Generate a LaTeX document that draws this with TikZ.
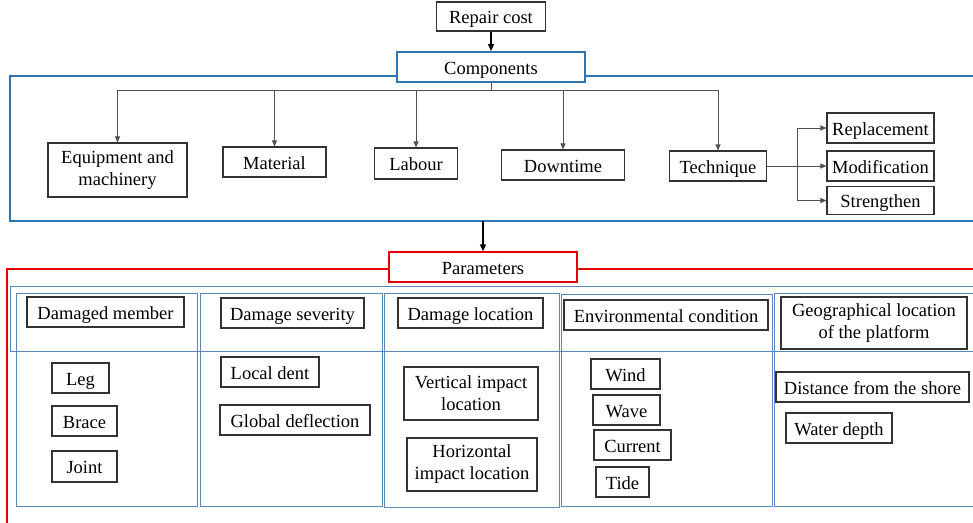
\documentclass[tikz,border=0pt]{standalone}
\usepackage{fontspec}
\setmainfont{Liberation Serif}
\usetikzlibrary{arrows.meta}

\definecolor{compblue}{RGB}{46,117,182}
\definecolor{parblue}{RGB}{96,136,182}
\definecolor{parred}{RGB}{226,0,0}
\definecolor{linegray}{RGB}{80,80,80}

\tikzset{
    base/.style={draw=black!80, line width=1.1pt, fill=white, inner sep=0pt,
        font=\fontsize{18.5}{22}\selectfont},
    box/.style={base, text height=17pt, text depth=3pt},
    twoline/.style={base, align=center, execute at begin node={\rule{0pt}{17pt}}},
    conn/.style={draw=linegray, line width=0.9pt},
    arr/.style={conn, -{Triangle[length=6pt,width=5pt]}},
}

\begin{document}
\begin{tikzpicture}[x=1pt,y=-1pt]
    \useasboundingbox (0,0) rectangle (973,522);

    % frames
    \draw[compblue, line width=2pt] (990,76) -- (10,76) -- (10,221) -- (990,221);
    \draw[parred, line width=1.4pt] (990,269) -- (7,269) -- (7,530);
    \begin{scope}[parblue, line width=1pt]
        \draw (990,286) -- (10,286) -- (10,351) -- (990,351);
        \draw (16,293) rectangle (197,506);
        \draw (200,293) rectangle (382,506);
        \draw (384,293) rectangle (559,507);
        \draw (561,294) rectangle (772,506);
        \draw (990,293) -- (774,293) -- (774,506) -- (990,506);
    \end{scope}
    \coordinate (cbot) at (483,221);

    % top
    \node[box, minimum width=109pt, minimum height=29pt] (cost) at (491,16.5) {Repair cost};
    \node[box, draw=compblue, line width=2pt, minimum width=188pt, minimum height=30pt] (comp) at (491,67) {Components};

    % components
    \node[twoline, minimum width=139pt, minimum height=54pt] (equip) at (117.5,170) {Equipment and\\machinery};
    \node[box, minimum width=103pt, minimum height=30pt] (mat) at (274.5,162) {Material};
    \node[box, minimum width=83pt, minimum height=31pt] (lab) at (416,163.5) {Labour};
    \node[box, minimum width=123pt, minimum height=30pt] (down) at (563,165) {Downtime};
    \node[box, minimum width=97pt, minimum height=30pt] (tech) at (718,166) {Technique};
    \node[box, minimum width=107pt, minimum height=30pt] (repl) at (880.5,128) {Replacement};
    \node[box, minimum width=107pt, minimum height=30pt] (modi) at (880.5,166) {Modification};
    \node[box, minimum width=107pt, minimum height=28pt] (stren) at (880.5,200.5) {Strengthen};

    \coordinate (bus) at (491,90);
    \coordinate (split) at (797,166);
    \draw[black, line width=1.3pt, -{Triangle[length=7pt,width=6pt]}] (cost) -- (comp);
    \draw[conn] (comp) -- (bus);
    \draw[conn] (equip.north |- bus) -- (tech.north |- bus);
    \foreach \n in {equip,mat,lab,down,tech}
        \draw[arr] (\n.north |- bus) -- (\n.north);
    \draw[conn] (tech) -- (split);
    \draw[conn] (split |- repl) -- (split |- stren);
    \foreach \n in {repl,modi,stren}
        \draw[arr] (split |- \n) -- (\n.west);

    % parameters
    \node[box, draw=parred, line width=1.4pt, minimum width=188pt, minimum height=30pt] (param) at (483,267) {Parameters};
    \draw[black, line width=1.3pt, -{Triangle[length=7pt,width=6pt]}] (cbot) -- (param);

    \node[box, minimum width=157pt, minimum height=30pt] (member) at (105.5,312) {Damaged member};
    \node[box, minimum width=57pt, minimum height=30pt] (leg) at (80.5,378) {Leg};
    \node[box, minimum width=65pt, minimum height=30pt] (brace) at (84.5,421) {Brace};
    \node[box, minimum width=65pt, minimum height=31pt] (joint) at (84.5,466.5) {Joint};

    \node[box, minimum width=143pt, minimum height=30pt] (sev) at (292.5,313) {Damage severity};
    \node[box, minimum width=98pt, minimum height=30pt] (dent) at (270,372) {Local dent};
    \node[box, minimum width=150pt, minimum height=30pt] (defl) at (295,420) {Global deflection};

    \node[box, minimum width=145pt, minimum height=30pt] (loc) at (470.5,313) {Damage location};
    \node[twoline, minimum width=134pt, minimum height=53pt] (vert) at (471,393.5) {Vertical impact\\location};
    \node[twoline, minimum width=130pt, minimum height=53pt] (horiz) at (472,464.5) {Horizontal\\impact location};

    \node[box, minimum width=204pt, minimum height=30pt] (env) at (666,315) {Environmental condition};
    \node[box, minimum width=69pt, minimum height=30pt] (wind) at (625.5,374) {Wind};
    \node[box, minimum width=67pt, minimum height=30pt] (wave) at (626.5,410) {Wave};
    \node[box, minimum width=77pt, minimum height=30pt] (curr) at (632.5,445) {Current};
    \node[box, minimum width=53pt, minimum height=30pt] (tide) at (622.5,482) {Tide};

    \node[twoline, minimum width=186pt, minimum height=52pt] (geo) at (874,323) {Geographical location\\of the platform};
    \node[box, minimum width=193pt, minimum height=30pt] (shore) at (872.5,387) {Distance from the shore};
    \node[box, minimum width=106pt, minimum height=30pt] (depth) at (839,428) {Water depth};
\end{tikzpicture}
\end{document}
